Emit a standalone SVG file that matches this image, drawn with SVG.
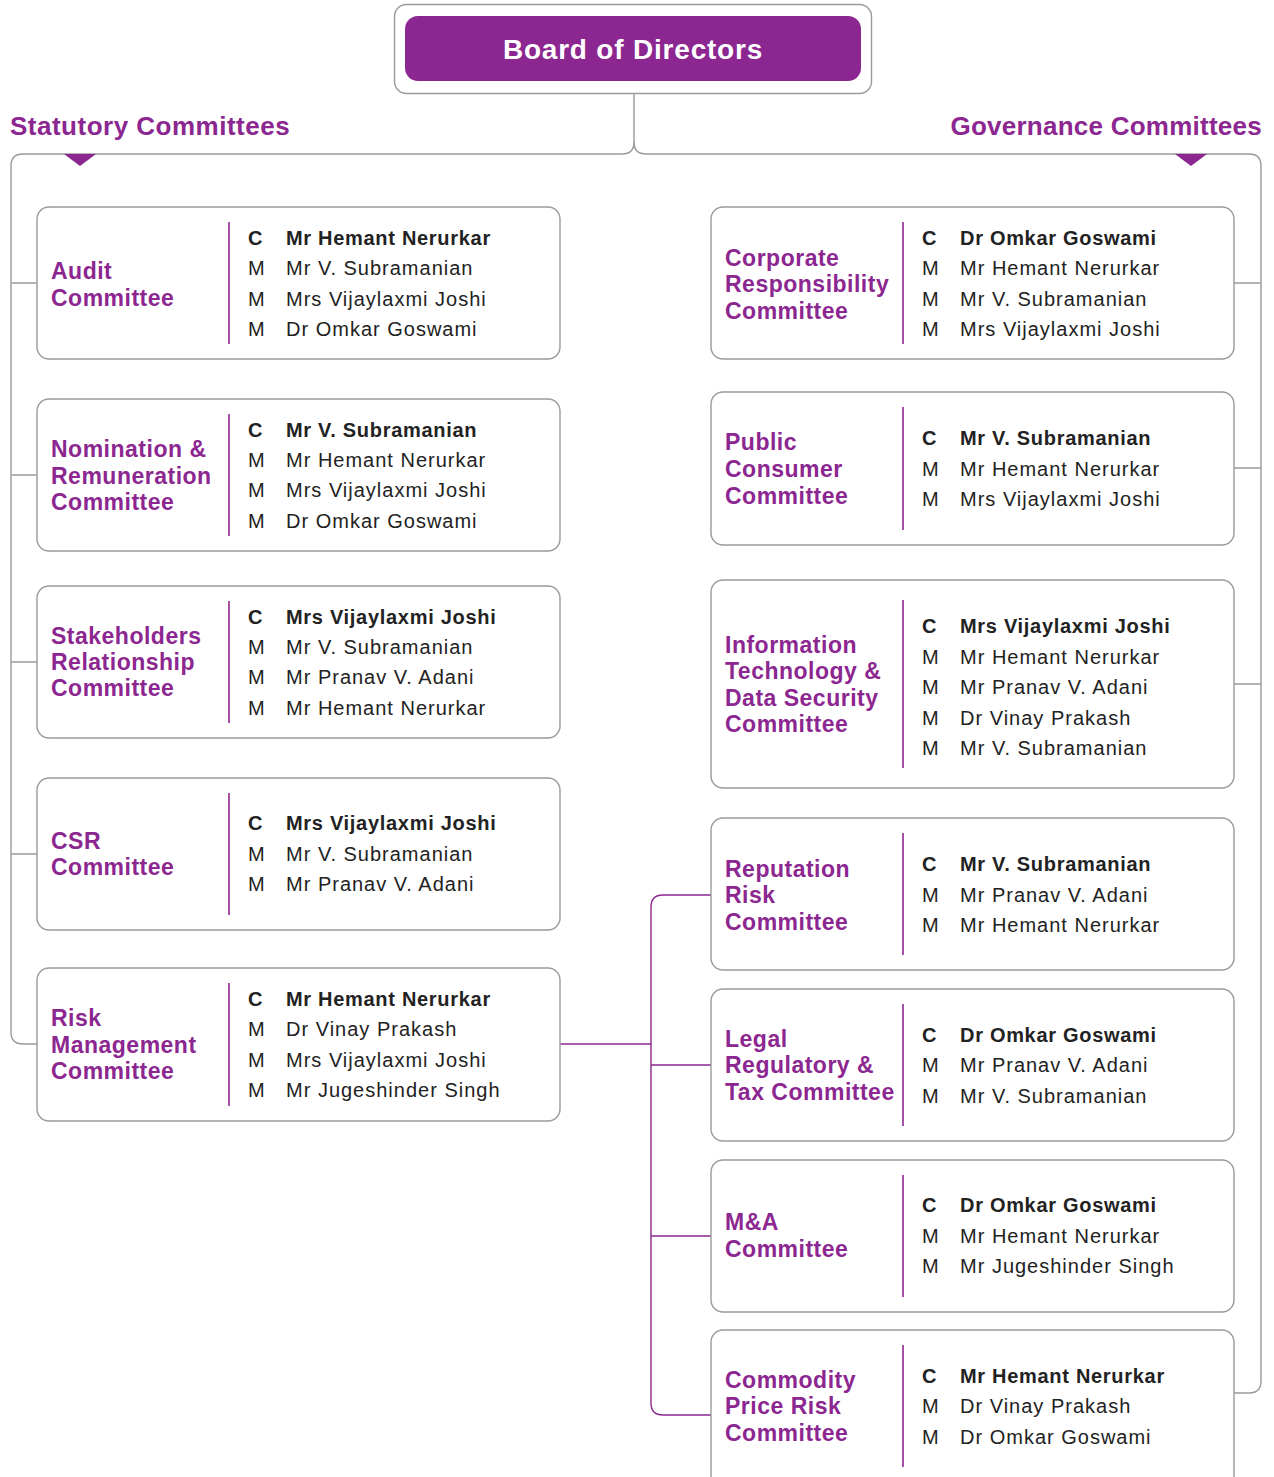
<svg xmlns="http://www.w3.org/2000/svg" width="1274" height="1477" viewBox="0 0 1274 1477">
<style>
.box{fill:#fff;stroke:#9a9a9a;stroke-width:1.4}
.gl{fill:none;stroke:#9a9a9a;stroke-width:1.4}
.pl{fill:none;stroke:#8c2690;stroke-width:1.4}
.div{stroke:#8c2690;stroke-width:1.6}
.nm{font-family:"Liberation Sans",Arial,sans-serif;font-weight:bold;font-size:23px;fill:#8c2690;letter-spacing:0.5px}
.hd{font-family:"Liberation Sans",Arial,sans-serif;font-weight:bold;font-size:26px;fill:#8c2690;letter-spacing:0.5px}
.mb{font-family:"Liberation Sans",Arial,sans-serif;font-size:20px;fill:#222;letter-spacing:1px}
.ch{font-weight:bold;letter-spacing:0.7px}
.tri{fill:#8c2690}
</style>
<rect width="1274" height="1477" fill="#fff"/>

<g id="connectors">
<path class="gl" d="M634 93 V142 Q634 154 622 154 H23 Q11 154 11 166 V1032 Q11 1044 23 1044 H37"/>
<path class="gl" d="M634 142 Q634 154 646 154 H1249 Q1261 154 1261 166 V1381 Q1261 1393 1249 1393 H1234"/>
<path class="gl" d="M11 283 H37 M11 475 H37 M11 662 H37 M11 854 H37"/>
<path class="gl" d="M1234 283 H1261 M1234 468 H1261 M1234 684 H1261"/>
<polygon class="tri" points="64,154 96,154 80,166"/>
<polygon class="tri" points="1175,154 1207,154 1191,166"/>
<path class="pl" d="M560 1044 H651"/>
<path class="pl" d="M711 895 H663 Q651 895 651 907 V1403 Q651 1415 663 1415 H711"/>
<path class="pl" d="M651 1065 H711 M651 1236 H711"/>
</g>

<g id="board">
<rect x="394.5" y="4.5" width="477" height="89" rx="12" class="box"/>
<rect x="405" y="16" width="456" height="65" rx="13" fill="#8c2690"/>
<text x="633" y="59" text-anchor="middle" font-family="Liberation Sans,Arial,sans-serif" font-weight="bold" font-size="28" letter-spacing="0.8" fill="#fff">Board of Directors</text>
</g>

<g id="heading-statutory"><text class="hd" x="10" y="135">Statutory Committees</text></g>
<g id="heading-governance"><text class="hd" x="1262" y="135" text-anchor="end" style="letter-spacing:0.25px">Governance Committees</text></g>

<!-- Left column -->
<g id="audit">
<rect x="37" y="207" width="523" height="152" rx="12" class="box"/>
<text class="nm" x="51" y="279">Audit</text>
<text class="nm" x="51" y="306">Committee</text>
<line class="div" x1="229" y1="222" x2="229" y2="344"/>
<text class="mb" x="248" y="245"><tspan class="ch">C</tspan><tspan x="286" class="ch">Mr Hemant Nerurkar</tspan></text>
<text class="mb" x="248" y="275">M<tspan x="286">Mr V. Subramanian</tspan></text>
<text class="mb" x="248" y="306">M<tspan x="286">Mrs Vijaylaxmi Joshi</tspan></text>
<text class="mb" x="248" y="336">M<tspan x="286">Dr Omkar Goswami</tspan></text>
</g>

<g id="nomination">
<rect x="37" y="399" width="523" height="152" rx="12" class="box"/>
<text class="nm" x="51" y="457">Nomination &amp;</text>
<text class="nm" x="51" y="484">Remuneration</text>
<text class="nm" x="51" y="510">Committee</text>
<line class="div" x1="229" y1="414" x2="229" y2="536"/>
<text class="mb" x="248" y="437"><tspan class="ch">C</tspan><tspan x="286" class="ch">Mr V. Subramanian</tspan></text>
<text class="mb" x="248" y="467">M<tspan x="286">Mr Hemant Nerurkar</tspan></text>
<text class="mb" x="248" y="497">M<tspan x="286">Mrs Vijaylaxmi Joshi</tspan></text>
<text class="mb" x="248" y="528">M<tspan x="286">Dr Omkar Goswami</tspan></text>
</g>

<g id="stakeholders">
<rect x="37" y="586" width="523" height="152" rx="12" class="box"/>
<text class="nm" x="51" y="644">Stakeholders</text>
<text class="nm" x="51" y="670">Relationship</text>
<text class="nm" x="51" y="696">Committee</text>
<line class="div" x1="229" y1="601" x2="229" y2="723"/>
<text class="mb" x="248" y="624"><tspan class="ch">C</tspan><tspan x="286" class="ch">Mrs Vijaylaxmi Joshi</tspan></text>
<text class="mb" x="248" y="654">M<tspan x="286">Mr V. Subramanian</tspan></text>
<text class="mb" x="248" y="684">M<tspan x="286">Mr Pranav V. Adani</tspan></text>
<text class="mb" x="248" y="715">M<tspan x="286">Mr Hemant Nerurkar</tspan></text>
</g>

<g id="csr">
<rect x="37" y="778" width="523" height="152" rx="12" class="box"/>
<text class="nm" x="51" y="849">CSR</text>
<text class="nm" x="51" y="875">Committee</text>
<line class="div" x1="229" y1="793" x2="229" y2="915"/>
<text class="mb" x="248" y="830"><tspan class="ch">C</tspan><tspan x="286" class="ch">Mrs Vijaylaxmi Joshi</tspan></text>
<text class="mb" x="248" y="861">M<tspan x="286">Mr V. Subramanian</tspan></text>
<text class="mb" x="248" y="891">M<tspan x="286">Mr Pranav V. Adani</tspan></text>
</g>

<g id="risk-management">
<rect x="37" y="968" width="523" height="153" rx="12" class="box"/>
<text class="nm" x="51" y="1026">Risk</text>
<text class="nm" x="51" y="1053">Management</text>
<text class="nm" x="51" y="1079">Committee</text>
<line class="div" x1="229" y1="983" x2="229" y2="1106"/>
<text class="mb" x="248" y="1006"><tspan class="ch">C</tspan><tspan x="286" class="ch">Mr Hemant Nerurkar</tspan></text>
<text class="mb" x="248" y="1036">M<tspan x="286">Dr Vinay Prakash</tspan></text>
<text class="mb" x="248" y="1067">M<tspan x="286">Mrs Vijaylaxmi Joshi</tspan></text>
<text class="mb" x="248" y="1097">M<tspan x="286">Mr Jugeshinder Singh</tspan></text>
</g>

<!-- Right column -->
<g id="corporate-responsibility">
<rect x="711" y="207" width="523" height="152" rx="12" class="box"/>
<text class="nm" x="725" y="266">Corporate</text>
<text class="nm" x="725" y="292">Responsibility</text>
<text class="nm" x="725" y="319">Committee</text>
<line class="div" x1="903" y1="222" x2="903" y2="344"/>
<text class="mb" x="922" y="245"><tspan class="ch">C</tspan><tspan x="960" class="ch">Dr Omkar Goswami</tspan></text>
<text class="mb" x="922" y="275">M<tspan x="960">Mr Hemant Nerurkar</tspan></text>
<text class="mb" x="922" y="306">M<tspan x="960">Mr V. Subramanian</tspan></text>
<text class="mb" x="922" y="336">M<tspan x="960">Mrs Vijaylaxmi Joshi</tspan></text>
</g>

<g id="public-consumer">
<rect x="711" y="392" width="523" height="153" rx="12" class="box"/>
<text class="nm" x="725" y="450">Public</text>
<text class="nm" x="725" y="477">Consumer</text>
<text class="nm" x="725" y="504">Committee</text>
<line class="div" x1="903" y1="407" x2="903" y2="530"/>
<text class="mb" x="922" y="445"><tspan class="ch">C</tspan><tspan x="960" class="ch">Mr V. Subramanian</tspan></text>
<text class="mb" x="922" y="476">M<tspan x="960">Mr Hemant Nerurkar</tspan></text>
<text class="mb" x="922" y="506">M<tspan x="960">Mrs Vijaylaxmi Joshi</tspan></text>
</g>

<g id="it-data-security">
<rect x="711" y="580" width="523" height="208" rx="12" class="box"/>
<text class="nm" x="725" y="653">Information</text>
<text class="nm" x="725" y="679">Technology &amp;</text>
<text class="nm" x="725" y="706">Data Security</text>
<text class="nm" x="725" y="732">Committee</text>
<line class="div" x1="903" y1="600" x2="903" y2="768"/>
<text class="mb" x="922" y="633"><tspan class="ch">C</tspan><tspan x="960" class="ch">Mrs Vijaylaxmi Joshi</tspan></text>
<text class="mb" x="922" y="664">M<tspan x="960">Mr Hemant Nerurkar</tspan></text>
<text class="mb" x="922" y="694">M<tspan x="960">Mr Pranav V. Adani</tspan></text>
<text class="mb" x="922" y="725">M<tspan x="960">Dr Vinay Prakash</tspan></text>
<text class="mb" x="922" y="755">M<tspan x="960">Mr V. Subramanian</tspan></text>
</g>

<g id="reputation-risk">
<rect x="711" y="818" width="523" height="152" rx="12" class="box"/>
<text class="nm" x="725" y="877">Reputation</text>
<text class="nm" x="725" y="903">Risk</text>
<text class="nm" x="725" y="930">Committee</text>
<line class="div" x1="903" y1="833" x2="903" y2="955"/>
<text class="mb" x="922" y="871"><tspan class="ch">C</tspan><tspan x="960" class="ch">Mr V. Subramanian</tspan></text>
<text class="mb" x="922" y="902">M<tspan x="960">Mr Pranav V. Adani</tspan></text>
<text class="mb" x="922" y="932">M<tspan x="960">Mr Hemant Nerurkar</tspan></text>
</g>

<g id="legal-regulatory-tax">
<rect x="711" y="989" width="523" height="152" rx="12" class="box"/>
<text class="nm" x="725" y="1047">Legal</text>
<text class="nm" x="725" y="1073">Regulatory &amp;</text>
<text class="nm" x="725" y="1100">Tax Committee</text>
<line class="div" x1="903" y1="1004" x2="903" y2="1126"/>
<text class="mb" x="922" y="1042"><tspan class="ch">C</tspan><tspan x="960" class="ch">Dr Omkar Goswami</tspan></text>
<text class="mb" x="922" y="1072">M<tspan x="960">Mr Pranav V. Adani</tspan></text>
<text class="mb" x="922" y="1103">M<tspan x="960">Mr V. Subramanian</tspan></text>
</g>

<g id="m-and-a">
<rect x="711" y="1160" width="523" height="152" rx="12" class="box"/>
<text class="nm" x="725" y="1230">M&amp;A</text>
<text class="nm" x="725" y="1257">Committee</text>
<line class="div" x1="903" y1="1175" x2="903" y2="1297"/>
<text class="mb" x="922" y="1212"><tspan class="ch">C</tspan><tspan x="960" class="ch">Dr Omkar Goswami</tspan></text>
<text class="mb" x="922" y="1243">M<tspan x="960">Mr Hemant Nerurkar</tspan></text>
<text class="mb" x="922" y="1273">M<tspan x="960">Mr Jugeshinder Singh</tspan></text>
</g>

<g id="commodity-price-risk">
<rect x="711" y="1330" width="523" height="160" rx="12" class="box"/>
<text class="nm" x="725" y="1388">Commodity</text>
<text class="nm" x="725" y="1414">Price Risk</text>
<text class="nm" x="725" y="1441">Committee</text>
<line class="div" x1="903" y1="1345" x2="903" y2="1467"/>
<text class="mb" x="922" y="1383"><tspan class="ch">C</tspan><tspan x="960" class="ch">Mr Hemant Nerurkar</tspan></text>
<text class="mb" x="922" y="1413">M<tspan x="960">Dr Vinay Prakash</tspan></text>
<text class="mb" x="922" y="1444">M<tspan x="960">Dr Omkar Goswami</tspan></text>
</g>
</svg>
